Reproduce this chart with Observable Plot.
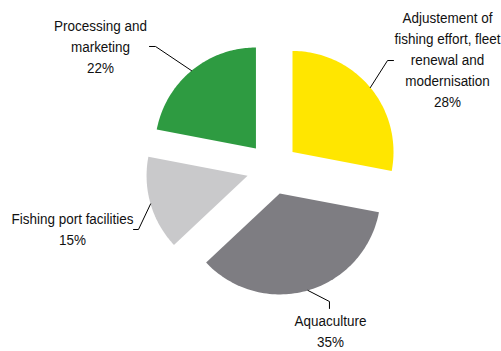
<!DOCTYPE html>
<html>
<head>
<meta charset="utf-8">
<script src="https://cdn.jsdelivr.net/npm/d3@7"></script>
<script src="https://cdn.jsdelivr.net/npm/@observablehq/plot@0.6"></script>
<style>
  html, body { margin: 0; padding: 0; background: #fff; }
  #chart svg { display: block; }
</style>
</head>
<body>
<div id="chart"></div>
<script>
// ---- data ----
const categories = [
  "Adjustement of fishing effort, fleet renewal and modernisation",
  "Aquaculture",
  "Fishing port facilities",
  "Processing and marketing"
];
const labelLines = [
  "Adjustement of\nfishing effort, fleet\nrenewal and\nmodernisation",
  "Aquaculture",
  "Fishing port facilities",
  "Processing and\nmarketing"
];
const shares = [28, 35, 15, 22];
const colors = ["#FFE600", "#7E7D82", "#C9C9CB", "#2E9B41"];

// ---- layout (in pie-radius units, relative to pie centre, y up) ----
const explode = 0.257;
const labelPos = [
  {x: 1.733, y: 1.089},
  {x: 0.574, y: -1.600},
  {x: -1.980, y: -0.589},
  {x: -1.703, y: 1.218}
];
const leaderPts = [ // elbow, end
  [{x: 1.139, y: 1.069}, {x: 1.198, y: 1.069}],
  [{x: 0.564, y: -1.317}, {x: 0.564, y: -1.386}],
  [{x: -1.327, y: -0.604}, {x: -1.376, y: -0.604}],
  [{x: -1.158, y: 1.208}, {x: -1.218, y: 1.208}]
];

const W = 501, H = 351;
const cxPx = 272, cyPx = 168, rPx = 101;
const xDomain = [-cxPx / rPx, (W - cxPx) / rPx];
const yDomain = [-(H - cyPx) / rPx, cyPx / rPx];

const total = d3.sum(shares);
const slicePts = [];
const leaders = [];
const labels = [];
let acc = 0;
shares.forEach((v, i) => {
  const a0 = acc / total * 2 * Math.PI;
  acc += v;
  const a1 = acc / total * 2 * Math.PI;
  const am = (a0 + a1) / 2;
  const ox = explode * Math.sin(am), oy = explode * Math.cos(am);
  const name = categories[i];
  slicePts.push({name, x: ox, y: oy});
  const n = 80;
  for (let k = 0; k <= n; k++) {
    const a = a0 + (a1 - a0) * k / n;
    slicePts.push({name, x: ox + Math.sin(a), y: oy + Math.cos(a)});
  }
  slicePts.push({name, x: ox, y: oy});
  leaders.push({name, x: ox + Math.sin(am), y: oy + Math.cos(am)});
  leaderPts[i].forEach(p => leaders.push({name, x: p.x, y: p.y}));
  labels.push({name, x: labelPos[i].x, y: labelPos[i].y,
    text: labelLines[i] + "\n" + Math.round(v / total * 100) + "%"});
});

const chart = Plot.plot({
  width: W,
  height: H,
  margin: 0,
  x: {domain: xDomain, axis: null},
  y: {domain: yDomain, axis: null},
  color: {domain: categories, range: colors},
  style: {background: "#fff", fontFamily: "'Liberation Sans Narrow', 'Arial Narrow', 'Liberation Sans', Arial, sans-serif"},
  marks: [
    Plot.line(slicePts, {x: "x", y: "y", z: "name", fill: "name", stroke: "none", curve: "linear-closed"}),
    Plot.line(leaders, {x: "x", y: "y", z: "name", stroke: "#000", strokeWidth: 1}),
    Plot.text(labels, {x: "x", y: "y", text: "text", fontSize: 15.5, lineHeight: 1.36, fill: "#111", textAnchor: "middle", lineAnchor: "middle", className: "pie-label"})
  ]
});
// condense the label text horizontally (narrow face unavailable)
d3.select(chart).selectAll("g.pie-label text").each(function() {
  const t = this.getAttribute("transform") || "";
  this.setAttribute("transform", t + " scale(0.87,1)");
});
document.getElementById("chart").appendChild(chart);
</script>
</body>
</html>
